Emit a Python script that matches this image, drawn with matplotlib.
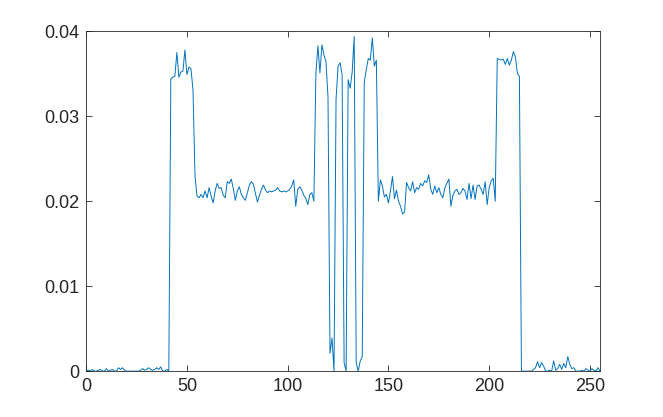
import numpy as np
import matplotlib
matplotlib.use('Agg')
from matplotlib import pyplot as plt

# 数据 (x = 0..255)
signal = [
    0.0000, 0.0001, 0.0000, 0.0002, 0.0000, 0.0000, 0.0001, 0.0002, 0.0000, 0.0000,
    0.0003, 0.0000, 0.0001, 0.0002, 0.0000, 0.0000, 0.0004, 0.0002, 0.0004, 0.0001,
    0.0000, 0.0000, 0.0000, 0.0000, 0.0000, 0.0000, 0.0000, 0.0001, 0.0003, 0.0001,
    0.0002, 0.0004, 0.0002, 0.0001, 0.0002, 0.0004, 0.0002, 0.0005, 0.0000, 0.0000,
    0.0002, 0.0000, 0.0344, 0.0346, 0.0347, 0.0375, 0.0346, 0.0352, 0.0353, 0.0378,
    0.0349, 0.0358, 0.0356, 0.0331, 0.0230, 0.0206, 0.0204, 0.0208, 0.0204, 0.0212,
    0.0204, 0.0216, 0.0206, 0.0198, 0.0212, 0.0221, 0.0215, 0.0216, 0.0207, 0.0204,
    0.0223, 0.0221, 0.0226, 0.0215, 0.0201, 0.0212, 0.0217, 0.0208, 0.0204, 0.0201,
    0.0210, 0.0219, 0.0223, 0.0220, 0.0209, 0.0199, 0.0207, 0.0214, 0.0219, 0.0213,
    0.0210, 0.0212, 0.0211, 0.0212, 0.0213, 0.0216, 0.0212, 0.0211, 0.0212, 0.0211,
    0.0212, 0.0214, 0.0218, 0.0225, 0.0194, 0.0214, 0.0217, 0.0213, 0.0207, 0.0203,
    0.0196, 0.0208, 0.0210, 0.0200, 0.0351, 0.0383, 0.0351, 0.0384, 0.0372, 0.0364,
    0.0323, 0.0021, 0.0039, 0.0000, 0.0320, 0.0359, 0.0363, 0.0349, 0.0010, 0.0000,
    0.0343, 0.0333, 0.0352, 0.0394, 0.0010, 0.0000, 0.0012, 0.0017, 0.0340, 0.0355,
    0.0368, 0.0366, 0.0392, 0.0359, 0.0366, 0.0200, 0.0225, 0.0218, 0.0205, 0.0208,
    0.0198, 0.0212, 0.0229, 0.0203, 0.0213, 0.0200, 0.0194, 0.0185, 0.0187, 0.0222,
    0.0216, 0.0212, 0.0223, 0.0210, 0.0216, 0.0214, 0.0221, 0.0218, 0.0224, 0.0222,
    0.0231, 0.0214, 0.0208, 0.0218, 0.0210, 0.0216, 0.0208, 0.0204, 0.0216, 0.0221,
    0.0226, 0.0194, 0.0207, 0.0212, 0.0214, 0.0208, 0.0210, 0.0215, 0.0212, 0.0202,
    0.0221, 0.0203, 0.0219, 0.0202, 0.0218, 0.0219, 0.0214, 0.0208, 0.0223, 0.0196,
    0.0216, 0.0224, 0.0227, 0.0200, 0.0368, 0.0367, 0.0366, 0.0367, 0.0361, 0.0368,
    0.0360, 0.0366, 0.0376, 0.0370, 0.0350, 0.0347, 0.0000, 0.0000, 0.0000, 0.0000,
    0.0000, 0.0000, 0.0002, 0.0004, 0.0011, 0.0004, 0.0010, 0.0006, 0.0000, 0.0000,
    0.0001, 0.0000, 0.0012, 0.0001, 0.0003, 0.0008, 0.0002, 0.0009, 0.0004, 0.0017,
    0.0008, 0.0003, 0.0004, 0.0000, 0.0000, 0.0000, 0.0001, 0.0000, 0.0003, 0.0001,
    0.0000, 0.0003, 0.0001, 0.0000, 0.0004, 0.0000,
]
x_ticks = [0, 50, 100, 150, 200, 250]
y_ticks = [0, 0.01, 0.02, 0.03, 0.04]
y_labels = ['0', '0.01', '0.02', '0.03', '0.04']

x = np.arange(len(signal))

plt.rcParams['font.family'] = ['Liberation Sans', 'DejaVu Sans']
fig = plt.figure(figsize=(6.63, 4.17), dpi=100)
ax = fig.add_axes([0.13, 0.11, 0.775, 0.815])
ax.plot(x, signal, color='#0072BD', linewidth=0.7)

ax.set_xlim(0, 255)
ax.set_ylim(0, 0.04)
ax.set_xticks(x_ticks)
ax.set_yticks(y_ticks)
ax.set_yticklabels(y_labels)
ax.tick_params(direction='in', top=True, right=True, length=4, width=0.6,
               colors='#262626', labelsize=13, pad=5)
for s in ax.spines.values():
    s.set_linewidth(0.6)
    s.set_color('#262626')

plt.savefig('out.png', dpi=100)
